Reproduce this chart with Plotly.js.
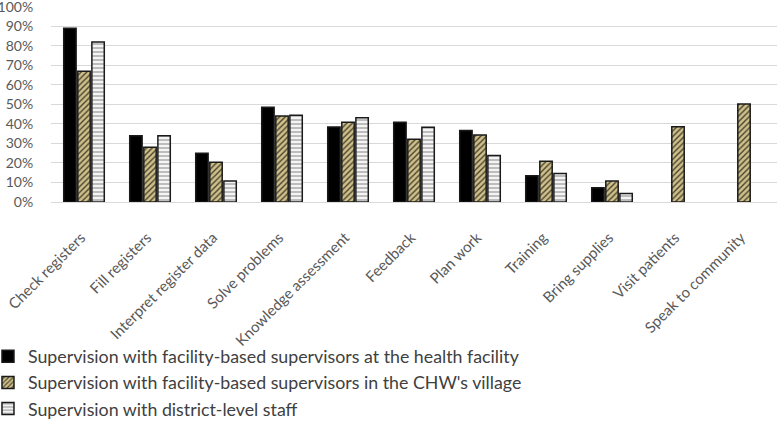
<!DOCTYPE html>
<html>
<head>
<meta charset="utf-8">
<script src="https://cdn.plot.ly/plotly-3.0.1.min.js"></script>
<style>html,body{margin:0;padding:0;background:#fff}#chart{width:778px;height:422px}</style>
</head>
<body>
<div id="chart"></div>
<script>
const categories = ["Check registers","Fill registers","Interpret register data","Solve problems","Knowledge assessment","Feedback","Plan work","Training","Bring supplies","Visit patients","Speak to community"];
const seriesNames = ["Supervision with facility-based supervisors at the health facility","Supervision with facility-based supervisors in the CHW's village","Supervision with district-level staff"];
const facilityValues = [89, 34, 25, 48.5, 38.4, 40.8, 36.6, 13.4, 7.3, null, null];
const villageValues = [67, 28, 20.4, 44, 40.8, 32.1, 34.3, 20.9, 10.7, 38.6, 50.2];
const districtValues = [82, 34, 10.7, 44.5, 43.2, 38.3, 23.8, 14.6, 4.4, null, null];
const yTickVals = [0,10,20,30,40,50,60,70,80,90,100];
const yTickText = ["0%","10%","20%","30%","40%","50%","60%","70%","80%","90%","100%"];

const FONT = "Lato, 'Open Sans', sans-serif";
const edge = {color:'#1a1a1a', width:1.5};

const traces = [
  {type:'bar', name:seriesNames[0], x:categories, y:facilityValues,
   marker:{color:'#000000', line:edge}},
  {type:'bar', name:seriesNames[1], x:categories, y:villageValues,
   marker:{color:'#4a4430', line:edge,
     pattern:{shape:'/', bgcolor:'#cfc08a', fgcolor:'#4a4430', size:4, solidity:0.35}}},
  {type:'bar', name:seriesNames[2], x:categories, y:districtValues,
   marker:{color:'#a6a6a6', line:edge,
     pattern:{shape:'-', bgcolor:'#f4f4f4', fgcolor:'#a6a6a6', size:4, solidity:0.35}}}
];

const layout = {
  width:778, height:422,
  margin:{l:51, r:1, t:6, b:220, autoexpand:false},
  paper_bgcolor:'#ffffff', plot_bgcolor:'#ffffff',
  font:{family:FONT, color:'#595959', size:14},
  barmode:'group', bargap:0.36, bargroupgap:0.12,
  showlegend:true,
  legend:{orientation:'v', x:-0.0868, xanchor:'left', y:-0.695, yanchor:'top',
    font:{family:FONT, size:17.8, color:'#404040'}, tracegroupgap:0, itemclick:false,
    bgcolor:'rgba(0,0,0,0)'},
  xaxis:{tickangle:-45, showgrid:false, zeroline:false, showline:false,
    ticks:'outside', ticklen:20, tickcolor:'rgba(0,0,0,0)', ticklabelshift:-3,
    tickfont:{family:FONT, size:15, color:'#595959'}, automargin:false, ticklabeloverflow:'allow'},
  yaxis:{range:[0,100.4], tickmode:'array', tickvals:yTickVals, ticktext:yTickText, showgrid:true, gridcolor:'#d9d9d9', gridwidth:1,
    zeroline:true, zerolinecolor:'#d9d9d9', zerolinewidth:1, showline:false,
    ticks:'outside', ticklen:14, tickcolor:'rgba(0,0,0,0)', ticklabeloverflow:'allow',
    tickfont:{family:FONT, size:14, color:'#595959'}, automargin:false, fixedrange:true}
};

Plotly.newPlot('chart', traces, layout, {displayModeBar:false, staticPlot:true});
</script>
</body>
</html>
